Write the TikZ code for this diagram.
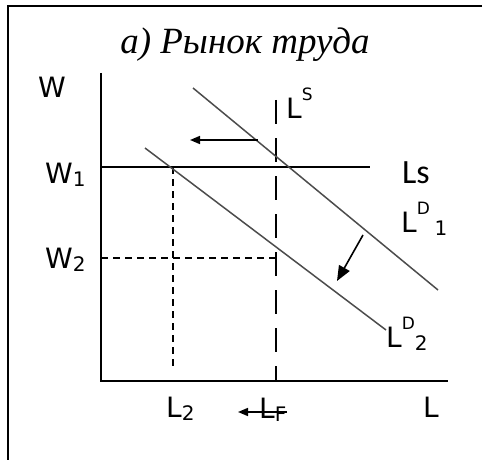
\documentclass[tikz,border=0pt]{standalone}
\usepackage{fontspec}
\setmainfont{DejaVu Sans}
\newfontfamily\titlefont{Liberation Serif}
\newfontfamily\lsfont{Carlito}
\usetikzlibrary{arrows.meta}
\newcommand{\lowix}[1]{\raisebox{-3pt}{\fontsize{20}{20}\selectfont #1}}
\newcommand{\highix}[1]{\raisebox{18pt}{\fontsize{17}{17}\selectfont #1}}

\begin{document}
\begin{tikzpicture}[x=1pt, y=-1pt, >={Triangle[length=10pt, width=8pt]},
  axis/.style={line width=1.8pt},
  curve/.style={line width=1.5pt, black!70},
  guide/.style={line width=1.5pt, dash pattern=on 7pt off 5pt},
  supply/.style={line width=1.5pt, dash pattern=on 24pt off 14pt},
  move/.style={->, line width=1.6pt},
  lbl/.style={font=\fontsize{28}{30}\selectfont, inner sep=0pt, anchor=base west}]
\useasboundingbox (0,0) rectangle (485,460);
\draw[line width=2.5pt] (482,6) -- (8,6) -- (8,460);
\node[font=\titlefont\itshape\fontsize{37}{40}\selectfont, inner sep=0pt] (title) at (245,45) {а) Рынок труда};
% axes
\coordinate (o) at (101,381);
\coordinate (wtop) at (101,73);
\coordinate (lend) at (448,381);
\draw[axis] (wtop) -- (o) -- (lend);
\node[lbl] (w) at (38,97) {W};
\node[lbl] (w1) at (45,183) {W\lowix{1}};
\node[lbl] (w2) at (45,268) {W\lowix{2}};
\node[lbl] (l2) at (166,417) {L\lowix{2}};
\node[lbl] (lf) at (259,418) {L\lowix{F}};
\node[lbl] (l) at (423,417) {L};
% wage levels and employment
\coordinate (w1a) at (101,167); \coordinate (w1b) at (370,167);
\coordinate (w2a) at (101,258); \coordinate (w2b) at (277,258);
\coordinate (l2a) at (173,167); \coordinate (l2b) at (173,370);
\coordinate (lsa) at (276,100); \coordinate (lsb) at (276,381);
\draw[axis] (w1a) -- (w1b);
\draw[guide] (w2a) -- (w2b);
\draw[guide] (l2a) -- (l2b);
\draw[supply] (lsa) -- (lsb);
\node[lbl] (ls) at (286,118) {L\highix{S}};
\node[inner sep=0pt, anchor=base west, font=\lsfont\fontsize{34}{36}\selectfont] (lsname) at (402,183) {Ls};
% demand curves
\coordinate (d1a) at (193,88); \coordinate (d1b) at (438,290);
\coordinate (d2a) at (145,148); \coordinate (d2b) at (386,330);
\draw[curve] (d1a) -- (d1b);
\draw[curve] (d2a) -- (d2b);
\node[lbl] (ld1) at (401,232) {L\highix{D}\,\lowix{1}};
\node[lbl] (ld2) at (386,347) {L\highix{D}\lowix{2}};
% shifts
\coordinate (s1a) at (258,140); \coordinate (s1b) at (190,140);
\coordinate (s2a) at (363,235); \coordinate (s2b) at (337,281);
\coordinate (s3a) at (287,412); \coordinate (s3b) at (238,412);
\draw[move] (s1a) -- (s1b);
\draw[move, >={Triangle[length=15pt, width=12pt]}] (s2a) -- (s2b);
\draw[move] (s3a) -- (s3b);
\end{tikzpicture}
\end{document}
